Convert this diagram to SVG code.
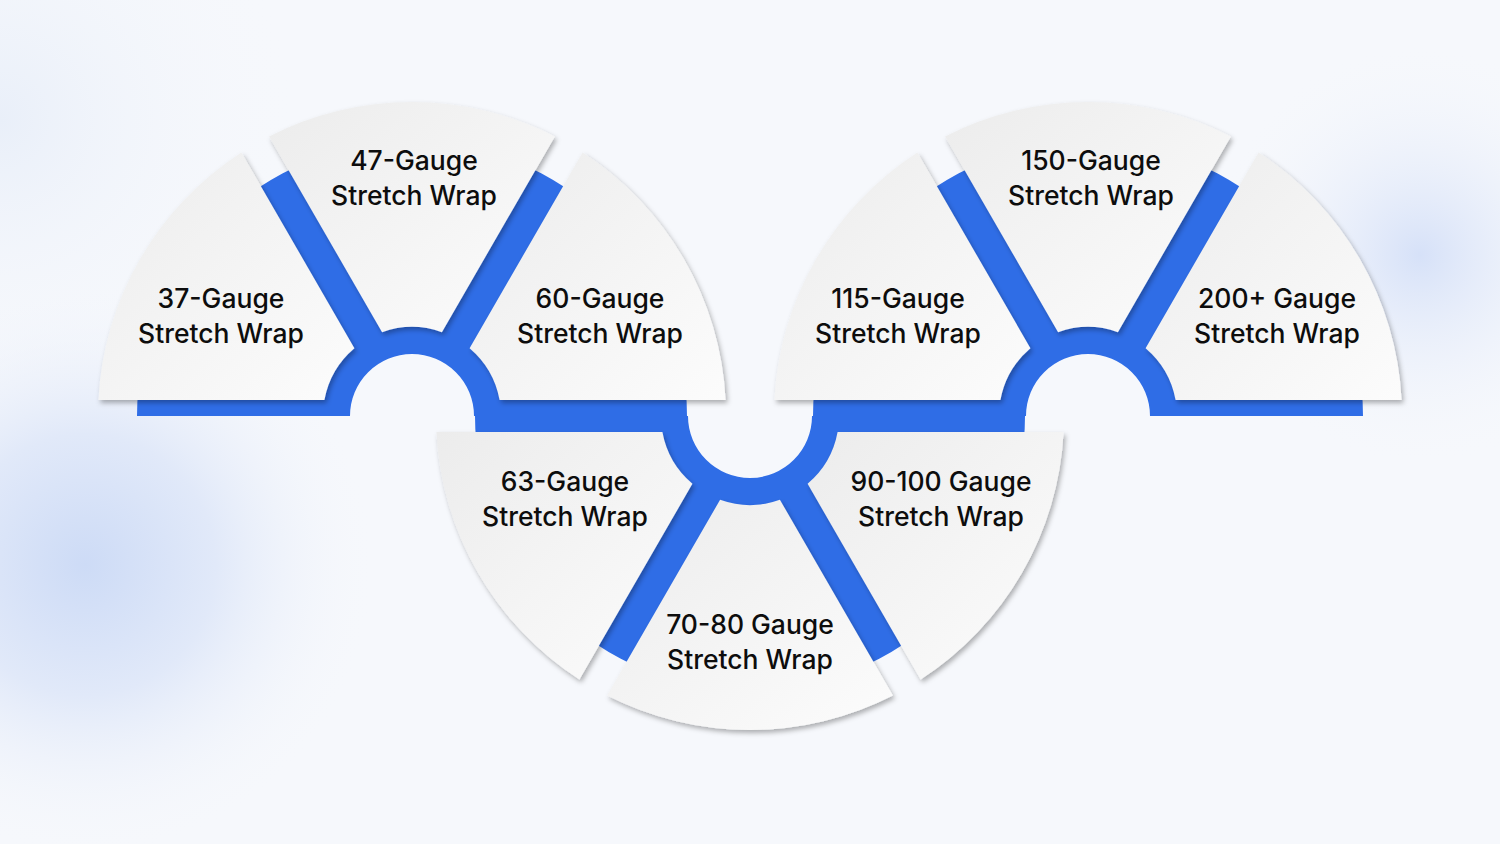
<svg xmlns="http://www.w3.org/2000/svg" width="1500" height="844" viewBox="0 0 1500 844">
  <defs>
    <radialGradient id="glowL" cx="85" cy="565" r="290" gradientUnits="userSpaceOnUse">
      <stop offset="0" stop-color="#cddbf6"/>
      <stop offset="0.45" stop-color="#e1e9f9"/>
      <stop offset="1" stop-color="#f6f8fc" stop-opacity="0"/>
    </radialGradient>
    <radialGradient id="glowR" cx="1420" cy="255" r="210" gradientUnits="userSpaceOnUse">
      <stop offset="0" stop-color="#d6e1f8"/>
      <stop offset="1" stop-color="#f6f8fc" stop-opacity="0"/>
    </radialGradient>
    <radialGradient id="glowTL" cx="0" cy="120" r="300" gradientUnits="userSpaceOnUse">
      <stop offset="0" stop-color="#e9eff9"/>
      <stop offset="1" stop-color="#f6f8fc" stop-opacity="0"/>
    </radialGradient>
    <linearGradient id="card" x1="0" y1="0" x2="1" y2="1">
      <stop offset="0" stop-color="#ececec"/>
      <stop offset="1" stop-color="#fcfcfc"/>
    </linearGradient>
    <filter id="shadow" x="-10%" y="-10%" width="125%" height="125%">
      <feDropShadow dx="2" dy="3" stdDeviation="2.5" flood-color="#000" flood-opacity="0.3"/>
    </filter>
  </defs>
  <style>
    .hub { fill: #2f6de6; }
    .sector { fill: url(#card); filter: url(#shadow); }
    .label { font-family: "Inter", "Lato", "Liberation Sans", sans-serif; font-size: 26.5px; font-weight: 500; fill: #0d0d0d; text-anchor: middle; }
  </style>

  <rect x="0" y="0" width="1500" height="844" fill="#f6f8fc"/>
  <rect x="0" y="0" width="1500" height="844" fill="url(#glowTL)"/>
  <rect x="0" y="0" width="1500" height="844" fill="url(#glowL)"/>
  <rect x="0" y="0" width="1500" height="844" fill="url(#glowR)"/>

  <g id="connectors">
    <path class="hub" d="M 137 416 A 275 275 0 0 1 687 416 L 474 416 A 62 62 0 0 0 350 416 Z"/>
    <path class="hub" d="M 475 416 A 275 275 0 0 0 1025 416 L 812 416 A 62 62 0 0 1 688 416 Z"/>
    <path class="hub" d="M 813 416 A 275 275 0 0 1 1363 416 L 1150 416 A 62 62 0 0 0 1026 416 Z"/>
  </g>

  <g id="node-37">
    <path class="sector" d="M 354.4 348.2 L 241.4 152.4 A 314 314 0 0 0 98.4 400 L 324.4 400 A 89 89 0 0 1 354.4 348.2 Z"/>
    <text class="label" x="221" y="308">37-Gauge</text>
    <text class="label" x="221" y="343">Stretch Wrap</text>
  </g>
  <g id="node-47">
    <path class="sector" d="M 441.9 332.2 L 554.9 136.4 A 314 314 0 0 0 269.1 136.4 L 382.1 332.2 A 89 89 0 0 1 441.9 332.2 Z"/>
    <text class="label" x="414" y="170">47-Gauge</text>
    <text class="label" x="414" y="205">Stretch Wrap</text>
  </g>
  <g id="node-60">
    <path class="sector" d="M 499.6 400 L 725.6 400 A 314 314 0 0 0 582.6 152.4 L 469.6 348.2 A 89 89 0 0 1 499.6 400 Z"/>
    <text class="label" x="600" y="308">60-Gauge</text>
    <text class="label" x="600" y="343">Stretch Wrap</text>
  </g>

  <g id="node-63">
    <path class="sector" d="M 692.4 483.8 L 579.4 679.6 A 314 314 0 0 1 436.4 432 L 662.4 432 A 89 89 0 0 0 692.4 483.8 Z"/>
    <text class="label" x="565" y="491">63-Gauge</text>
    <text class="label" x="565" y="526">Stretch Wrap</text>
  </g>
  <g id="node-70-80">
    <path class="sector" d="M 779.9 499.8 L 892.9 695.6 A 314 314 0 0 1 607.1 695.6 L 720.1 499.8 A 89 89 0 0 0 779.9 499.8 Z"/>
    <text class="label" x="750" y="634">70-80 Gauge</text>
    <text class="label" x="750" y="669">Stretch Wrap</text>
  </g>
  <g id="node-90-100">
    <path class="sector" d="M 837.6 432 L 1063.6 432 A 314 314 0 0 1 920.6 679.6 L 807.6 483.8 A 89 89 0 0 0 837.6 432 Z"/>
    <text class="label" x="941" y="491">90-100 Gauge</text>
    <text class="label" x="941" y="526">Stretch Wrap</text>
  </g>

  <g id="node-115">
    <path class="sector" d="M 1030.4 348.2 L 917.4 152.4 A 314 314 0 0 0 774.4 400 L 1000.4 400 A 89 89 0 0 1 1030.4 348.2 Z"/>
    <text class="label" x="898" y="308">115-Gauge</text>
    <text class="label" x="898" y="343">Stretch Wrap</text>
  </g>
  <g id="node-150">
    <path class="sector" d="M 1117.9 332.2 L 1230.9 136.4 A 314 314 0 0 0 945.1 136.4 L 1058.1 332.2 A 89 89 0 0 1 1117.9 332.2 Z"/>
    <text class="label" x="1091" y="170">150-Gauge</text>
    <text class="label" x="1091" y="205">Stretch Wrap</text>
  </g>
  <g id="node-200">
    <path class="sector" d="M 1175.6 400 L 1401.6 400 A 314 314 0 0 0 1258.6 152.4 L 1145.6 348.2 A 89 89 0 0 1 1175.6 400 Z"/>
    <text class="label" x="1277" y="308">200+ Gauge</text>
    <text class="label" x="1277" y="343">Stretch Wrap</text>
  </g>
</svg>
